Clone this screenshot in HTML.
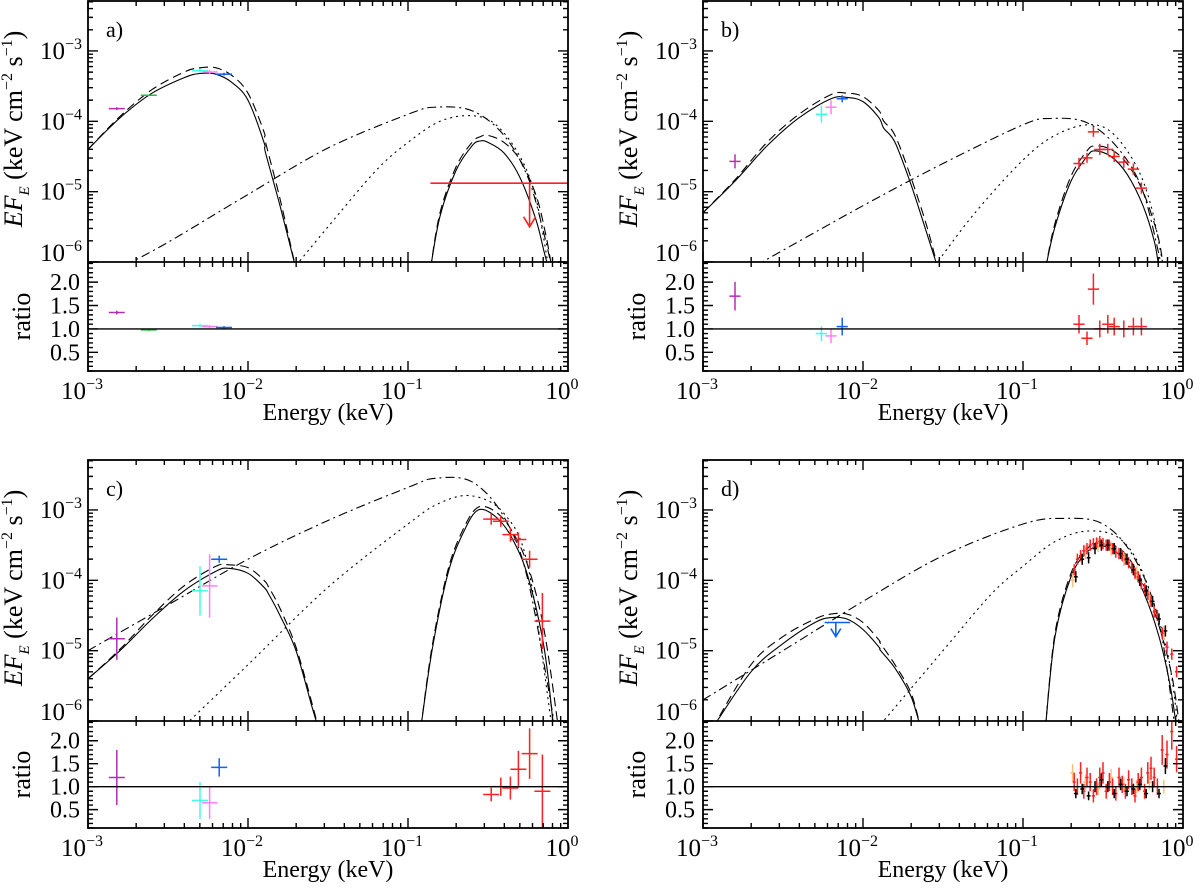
<!DOCTYPE html>
<html><head><meta charset="utf-8"><style>
html,body{margin:0;padding:0;background:#fff;}
svg{display:block;font-family:"Liberation Serif",serif;}
</style></head><body>
<svg id="fig" width="1200" height="889" viewBox="0 0 1200 889" xmlns="http://www.w3.org/2000/svg"></svg>
<script>
// ---------- panel a ----------
const a_lowE=[-3,-2.8,-2.6,-2.4,-2.3,-2.2,-2.1,-2.0,-1.9,-1.89,-1.8,-1.7];
const a_lowF=[-4.4,-3.95,-3.6,-3.38,-3.32,-3.33,-3.45,-3.7,-4.3,-4.45,-5.2,-6.1];
const a_lowDF=[-4.4,-3.93,-3.55,-3.3,-3.24,-3.24,-3.35,-3.6,-4.15,-4.3,-5.1,-6.1];
const a_hotE=[-0.86,-0.8,-0.7,-0.6,-0.55,-0.5,-0.4,-0.3,-0.2,-0.15,-0.12];
const a_hotF=[-6.1,-5.35,-4.7,-4.35,-4.28,-4.3,-4.45,-4.8,-5.4,-5.85,-6.1];
const a_hotDE=[-0.86,-0.8,-0.7,-0.6,-0.55,-0.5,-0.4,-0.3,-0.2,-0.14,-0.1];
const a_hotDF=[-6.1,-5.3,-4.65,-4.3,-4.22,-4.2,-4.3,-4.55,-5.05,-5.6,-6.1];
const a_ddE=[-2.77,-2.5,-2.0,-1.5,-1.0,-0.83,-0.6,-0.4,-0.25,-0.15,-0.1];
const a_ddF=[-6.05,-5.72,-5.04,-4.38,-3.9,-3.8,-3.85,-4.2,-4.8,-5.6,-6.1];
const a_dotE=[-1.7,-1.5,-1.2,-1.0,-0.8,-0.6,-0.45,-0.3,-0.2,-0.12];
const a_dotF=[-6.05,-5.5,-4.7,-4.3,-4.0,-3.92,-4.05,-4.5,-5.1,-6.1];
const a_ptE=[-2.82,-2.62,-2.30,-2.24,-2.15];
const a_ptF=[-3.82,-3.63,-3.28,-3.3,-3.33];
const a_ptR=[1.35,0.98,1.07,1.05,1.03];
const a_ptV=[0.02,0.01,0.03,0.03,0.02];
const a_ptC=["#b030b0","#20c040","#40ffe8","#ff80ff","#1060ff"];
// ---------- panel b ----------
const b_lowE=[-3,-2.8,-2.6,-2.4,-2.2,-2.1,-2.0,-1.9,-1.87,-1.8,-1.7,-1.6,-1.53];
const b_lowF=[-5.3,-4.85,-4.35,-3.95,-3.68,-3.66,-3.72,-3.95,-4.1,-4.3,-4.9,-5.6,-6.1];
const b_lowDF=[-5.3,-4.83,-4.3,-3.9,-3.62,-3.6,-3.65,-3.85,-4.0,-4.2,-4.8,-5.5,-6.1];
const b_hotE=[-0.86,-0.8,-0.7,-0.6,-0.55,-0.45,-0.35,-0.25,-0.18,-0.15];
const b_hotF=[-6.1,-5.5,-4.85,-4.5,-4.42,-4.5,-4.75,-5.2,-5.7,-6.1];
const b_hotDE=[-0.86,-0.8,-0.7,-0.6,-0.55,-0.45,-0.35,-0.25,-0.16,-0.12];
const b_hotDF=[-6.1,-5.45,-4.78,-4.42,-4.35,-4.4,-4.6,-5.0,-5.6,-6.1];
const b_ddE=[-2.67,-2.0,-1.5,-1.0,-0.83,-0.6,-0.4,-0.25,-0.13];
const b_ddF=[-6.05,-5.2,-4.6,-4.05,-3.96,-4.02,-4.4,-5.0,-6.1];
const b_dotE=[-1.55,-1.3,-1.0,-0.8,-0.6,-0.45,-0.3,-0.2,-0.12];
const b_dotF=[-6.05,-5.3,-4.55,-4.2,-4.05,-4.15,-4.6,-5.2,-6.1];
const b_ptE=[-2.8,-2.26,-2.2,-2.13,-0.65,-0.6,-0.56,-0.52,-0.47,-0.43,-0.37,-0.31,-0.26];
const b_ptF=[-4.57,-3.9,-3.8,-3.68,-4.6,-4.52,-4.15,-4.4,-4.4,-4.5,-4.58,-4.68,-4.95];
const b_ptR=[1.7,0.9,0.85,1.05,1.1,0.8,1.85,1.0,1.1,1.05,1.0,1.05,1.05];
const b_ptV=[0.1,0.12,0.1,0.05,0.08,0.07,0.07,0.08,0.08,0.08,0.08,0.08,0.08];
const b_ptC=["#b030b0","#40ffe8","#ff80ff","#1060ff","#ff2020","#ff2020","#ff2020","#ff2020","#ff2020","#ff2020","#ff2020","#ff2020","#ff2020"];
// ---------- panel c ----------
const c_lowE=[-3,-2.8,-2.6,-2.4,-2.2,-2.12,-2.0,-1.9,-1.87,-1.8,-1.7,-1.6,-1.56];
const c_lowF=[-5.4,-5.0,-4.55,-4.15,-3.87,-3.83,-3.9,-4.1,-4.2,-4.5,-5.0,-5.8,-6.1];
const c_lowDF=[-5.4,-4.98,-4.5,-4.08,-3.8,-3.78,-3.82,-4.0,-4.1,-4.4,-4.95,-5.75,-6.1];
const c_hotE=[-0.92,-0.85,-0.75,-0.65,-0.56,-0.45,-0.35,-0.25,-0.15,-0.09];
const c_hotF=[-6.1,-5.0,-3.9,-3.3,-3.0,-3.1,-3.4,-3.95,-4.95,-6.1];
const c_hotDE=[-0.92,-0.85,-0.75,-0.65,-0.56,-0.45,-0.35,-0.25,-0.15,-0.06];
const c_hotDF=[-6.1,-4.95,-3.85,-3.25,-2.96,-3.03,-3.3,-3.8,-4.7,-6.1];
const c_ddE=[-3,-2.5,-2.0,-1.5,-1.0,-0.83,-0.6,-0.4,-0.25,-0.08];
const c_ddF=[-5.0,-4.35,-3.7,-3.15,-2.68,-2.55,-2.6,-3.1,-4.0,-6.1];
const c_dotE=[-2.39,-2.0,-1.5,-1.0,-0.8,-0.6,-0.4,-0.25,-0.1];
const c_dotF=[-6.05,-5.2,-4.1,-3.2,-2.9,-2.8,-3.05,-3.8,-6.1];
const c_ptE=[-2.82,-2.3,-2.24,-2.18,-0.48,-0.42,-0.36,-0.31,-0.24,-0.16];
const c_ptF=[-4.83,-4.15,-4.08,-3.7,-3.13,-3.16,-3.35,-3.42,-3.7,-4.58];
const c_ptR=[1.2,0.7,0.65,1.42,0.83,1.0,0.97,1.38,1.72,0.9];
const c_ptV=[0.3,0.35,0.45,0.05,0.08,0.08,0.1,0.1,0.12,0.4];
const c_ptRE=[0.6,0.4,0.35,0.2,0.15,0.2,0.25,0.4,0.55,0.8];
const c_ptC=["#b030b0","#40ffe8","#ff80ff","#1060ff","#ff2020","#ff2020","#ff2020","#ff2020","#ff2020","#ff2020"];
// ---------- panel d ----------
const d_lowE=[-2.94,-2.7,-2.5,-2.3,-2.2,-2.1,-2.0,-1.9,-1.89,-1.8,-1.7,-1.64];
const d_lowF=[-6.1,-5.3,-4.9,-4.6,-4.53,-4.55,-4.7,-4.95,-5.0,-5.25,-5.65,-6.1];
const d_lowDF=[-6.1,-5.2,-4.8,-4.55,-4.48,-4.48,-4.6,-4.85,-4.9,-5.2,-5.6,-6.1];
const d_hotE=[-0.86,-0.8,-0.7,-0.6,-0.52,-0.45,-0.35,-0.25,-0.15,-0.08,-0.04];
const d_hotF=[-6.1,-4.8,-3.95,-3.6,-3.52,-3.55,-3.75,-4.15,-4.8,-5.5,-6.1];
const d_hotDE=[-0.86,-0.8,-0.7,-0.6,-0.52,-0.45,-0.35,-0.25,-0.15,-0.07,-0.02];
const d_hotDF=[-6.1,-4.75,-3.9,-3.55,-3.47,-3.48,-3.65,-4.05,-4.65,-5.35,-6.1];
const d_ddE=[-3,-2.5,-2.0,-1.5,-1.0,-0.75,-0.5,-0.3,-0.15,-0.05];
const d_ddF=[-5.7,-5.0,-4.3,-3.65,-3.2,-3.12,-3.2,-3.7,-4.6,-6.1];
const d_dotE=[-1.89,-1.5,-1.2,-1.0,-0.8,-0.6,-0.4,-0.25,-0.1,-0.03];
const d_dotF=[-6.05,-5.0,-4.2,-3.8,-3.45,-3.3,-3.4,-3.9,-5.0,-6.1];
const d_redE=[-0.68,-0.66,-0.64,-0.62,-0.60,-0.58,-0.56,-0.54,-0.52,-0.50,-0.48,-0.46,-0.44,-0.42,-0.40,-0.38,-0.36,-0.34,-0.32,-0.30,-0.28,-0.26,-0.24,-0.22,-0.20,-0.18,-0.16,-0.13,-0.10,-0.07,-0.04];
const d_redF=[-3.85,-3.7,-3.65,-3.58,-3.55,-3.5,-3.48,-3.47,-3.45,-3.48,-3.5,-3.5,-3.55,-3.6,-3.62,-3.65,-3.7,-3.75,-3.82,-3.9,-3.95,-4.05,-4.12,-4.2,-4.3,-4.45,-4.5,-4.75,-4.95,-5.05,-5.3];
const d_redR=[1.1,1.0,1.3,0.9,1.2,1.1,0.8,1.0,1.2,1.3,0.9,1.1,1.0,0.85,1.2,1.05,0.9,1.15,1.0,0.8,1.1,1.2,0.9,1.3,1.4,1.2,1.0,1.8,1.7,2.2,1.6];
const d_blkE=[-0.67,-0.63,-0.59,-0.55,-0.51,-0.47,-0.43,-0.39,-0.35,-0.31,-0.27,-0.23,-0.19,-0.15,-0.11];
const d_blkF=[-3.95,-3.7,-3.68,-3.55,-3.5,-3.5,-3.55,-3.62,-3.7,-3.85,-4.0,-4.15,-4.3,-4.55,-4.72];
const d_blkR=[0.85,0.95,0.8,1.0,1.15,1.0,0.85,1.05,0.9,0.95,1.05,0.85,1.0,0.85,1.45];
const d_orgE=[-0.69,-0.61,-0.53,-0.45,-0.37,-0.29,-0.21,-0.12];
const d_orgF=[-4.0,-3.6,-3.5,-3.55,-3.7,-3.9,-4.25,-4.75];
const d_orgR=[1.3,1.1,0.95,1.2,1.05,1.0,1.1,1.0];

const NS="http://www.w3.org/2000/svg";
const svg=document.getElementById('fig');
function mk(tag,attrs,parent){const e=document.createElementNS(NS,tag);for(const k in attrs)e.setAttribute(k,attrs[k]);(parent||svg).appendChild(e);return e;}

const W=480, TOPH=261, LTOP=-2.29, LBOT=-6.0, RTOP=2.43, RBOT=0.1;

function smooth(P){
  let d='M'+P[0][0].toFixed(1)+' '+P[0][1].toFixed(1);
  for(let i=0;i<P.length-1;i++){
    const p0=P[Math.max(i-1,0)],p1=P[i],p2=P[i+1],p3=P[Math.min(i+2,P.length-1)];
    const c1x=p1[0]+(p2[0]-p0[0])/6,c1y=p1[1]+(p2[1]-p0[1])/6;
    const c2x=p2[0]-(p3[0]-p1[0])/6,c2y=p2[1]-(p3[1]-p1[1])/6;
    d+=`C${c1x.toFixed(1)} ${c1y.toFixed(1)} ${c2x.toFixed(1)} ${c2y.toFixed(1)} ${p2[0].toFixed(1)} ${p2[1].toFixed(1)}`;
  }
  return d;
}

function panel(ox,oy,RH,lab,curves,pts,extra){
  const g=mk('g',{});
  
  
  const X=e=>ox+(e+3)/3*W;
  const Y=f=>oy+(LTOP-f)/(LTOP-LBOT)*TOPH;
  const R=r=>oy+TOPH+(RTOP-r)/(RTOP-RBOT)*RH;
  const clip='clip'+lab, clipR='clipr'+lab;
  const defs=mk('defs',{},g);
  const cp=mk('clipPath',{id:clip},defs); mk('rect',{x:ox,y:oy,width:W,height:TOPH},cp);
  const cr=mk('clipPath',{id:clipR},defs); mk('rect',{x:ox,y:oy+TOPH,width:W,height:RH},cr);
  curves.forEach(c=>{
    const P=c.E.map((e,i)=>[X(e),Y(c.F[i])]);
    const p=mk('path',{d:smooth(P),fill:'none',stroke:'#000','stroke-width':1.1,'stroke-dasharray':c.dash,'clip-path':'url(#'+clip+')'},g);
    
    
  });
  pts.forEach(s=>{
    s.E.forEach((e,i)=>{
      const col=Array.isArray(s.C)?s.C[i]:s.C;
      const x=X(e), y=Y(s.F[i]);
      const gp=mk('g',{stroke:col,'stroke-width':1.5,fill:'none'},g);
      
      
      const hx=s.hx, vy=Array.isArray(s.vy)?s.vy[i]:s.vy;
      const re=Array.isArray(s.re)?s.re[i]:s.re*s.R[i];
      mk('line',{x1:X(e-hx),x2:X(e+hx),y1:y,y2:y,'clip-path':'url(#'+clip+')'},gp);
      mk('line',{x1:x,x2:x,y1:Y(s.F[i]+vy),y2:Math.min(Y(s.F[i]-vy),oy+TOPH),'clip-path':'url(#'+clip+')'},gp);
      const ry=R(s.R[i]);
      mk('line',{x1:X(e-hx),x2:X(e+hx),y1:ry,y2:ry,'clip-path':'url(#'+clipR+')'},gp);
      mk('line',{x1:x,x2:x,y1:R(s.R[i]+re),y2:R(s.R[i]-re),'clip-path':'url(#'+clipR+')'},gp);
    });
  });
  if(extra) extra(g,X,Y,R);
  const ul=mk('line',{x1:ox,x2:ox+W,y1:R(1),y2:R(1),stroke:'#000','stroke-width':1.4},g);
  
  
  mk('rect',{x:ox,y:oy,width:W,height:TOPH+RH,fill:'none',stroke:'#000','stroke-width':1.8},g);
  mk('line',{x1:ox,x2:ox+W,y1:oy+TOPH,y2:oy+TOPH,stroke:'#000','stroke-width':1.8},g);
  let tk='';
  for(let dcd=-3;dcd<0;dcd++){for(let m=1;m<10;m++){
    const e=dcd+Math.log10(m);const x=X(e);const L=m==1?10:5;
    tk+=`M${x} ${oy}v${L}M${x} ${oy+TOPH}v${-L}M${x} ${oy+TOPH}v${L}M${x} ${oy+TOPH+RH}v${-L}`;}}
  for(let dcd=-7;dcd<=-2;dcd++){for(let m=1;m<10;m++){
    const f=dcd+Math.log10(m);if(f>LTOP||f<LBOT-0.001)continue;const y=Y(f);const L=m==1?10:5;
    tk+=`M${ox} ${y}h${L}M${ox+W} ${y}h${-L}`;}}
  for(let r=0.1;r<2.43;r+=0.1){const y=R(r);const maj=Math.abs(r*2-Math.round(r*2))<0.01;const L=maj?10:5;
    tk+=`M${ox} ${y}h${L}M${ox+W} ${y}h${-L}`;}
  mk('path',{d:tk,stroke:'#000','stroke-width':1.4,fill:'none'},g);
  [-3,-4,-5,-6].forEach(f=>{
    const t=mk('text',{x:ox-6,y:Y(f)+(f==-6?-1:8),'text-anchor':'end','font-size':25},g);
    
    
    t.innerHTML='10<tspan dy="-10" font-size="16">−'+(-f)+'</tspan>';
  });
  ['2.0','1.5','1.0','0.5'].forEach(v=>{
    const t=mk('text',{x:ox-8,y:R(+v)+8,'text-anchor':'end','font-size':24},g);
    
    
    t.textContent=v;
  });
  const bot=oy+TOPH+RH;
  [-3,-2,-1,0].forEach(e=>{
    const t=mk('text',{x:X(e)-6,y:bot+28,'text-anchor':'middle','font-size':25},g);
    
    
    t.innerHTML='10<tspan dy="-10" font-size="16">'+(e==0?'0':'−'+(-e))+'</tspan>';
  });
  const xt=mk('text',{x:ox+W/2,y:bot+49,'text-anchor':'middle','font-size':24},g);
  
  
  xt.textContent='Energy (keV)';
  const yt=mk('text',{transform:`translate(${ox-66},${oy+128}) rotate(-90)`,'text-anchor':'middle','font-size':26},g);
  
  
  yt.innerHTML='<tspan font-style="italic">EF</tspan><tspan font-style="italic" font-size="15" dy="7">E</tspan><tspan dy="-7"> (keV cm</tspan><tspan dy="-10" font-size="16">−2</tspan><tspan dy="10"> s</tspan><tspan dy="-10" font-size="16">−1</tspan><tspan dy="10">)</tspan>';
  const rt=mk('text',{transform:`translate(${ox-58},${oy+TOPH+RH/2}) rotate(-90)`,'text-anchor':'middle','font-size':26},g);
  
  
  rt.textContent='ratio';
  const pl=mk('text',{x:ox+18,y:oy+36,'font-size':22},g);
  
  
  pl.textContent=lab+')';
}
function cv(E,F,dash,name){return {E:E,F:F,dash:dash,name:name};}
const SOL='none',DSH='9,5',DD='9,4,2,4',DOT='2,4';

panel(88,1,109,'a',[cv(a_lowE,a_lowF,SOL,'model-cool'),cv(a_lowE,a_lowDF,DSH,'model-total'),cv(a_hotE,a_hotF,SOL,'model-hot'),cv(a_hotDE,a_hotDF,DSH,'model-total-hot'),cv(a_ddE,a_ddF,DD,'model-powerlaw'),cv(a_dotE,a_dotF,DOT,'model-disk')],
  [{E:a_ptE,F:a_ptF,R:a_ptR,C:a_ptC,hx:0.05,vy:a_ptV,re:0.03}],
  (g,X,Y,R)=>{
    const ul=mk('g',{stroke:'#ff2020','stroke-width':1.6,fill:'none'},g);
    
    
    mk('line',{x1:X(-0.86),x2:X(0),y1:Y(-4.88),y2:Y(-4.88)},ul);
    mk('line',{x1:X(-0.24),x2:X(-0.24),y1:Y(-4.88),y2:Y(-5.5)},ul);
    mk('path',{d:`M${X(-0.24)-6} ${Y(-5.5)-10}L${X(-0.24)} ${Y(-5.5)}L${X(-0.24)+6} ${Y(-5.5)-10}`},ul);
  });
panel(703,1,109,'b',[cv(b_lowE,b_lowF,SOL,'model-cool'),cv(b_lowE,b_lowDF,DSH,'model-total'),cv(b_hotE,b_hotF,SOL,'model-hot'),cv(b_hotDE,b_hotDF,DSH,'model-total-hot'),cv(b_ddE,b_ddF,DD,'model-powerlaw'),cv(b_dotE,b_dotF,DOT,'model-disk')],
  [{E:b_ptE,F:b_ptF,R:b_ptR,C:b_ptC,hx:0.035,vy:b_ptV,re:0.18}]);
panel(88,460,107,'c',[cv(c_lowE,c_lowF,SOL,'model-cool'),cv(c_lowE,c_lowDF,DSH,'model-total'),cv(c_hotE,c_hotF,SOL,'model-hot'),cv(c_hotDE,c_hotDF,DSH,'model-total-hot'),cv(c_ddE,c_ddF,DD,'model-powerlaw'),cv(c_dotE,c_dotF,DOT,'model-disk')],
  [{E:c_ptE,F:c_ptF,R:c_ptR,C:c_ptC,hx:0.05,vy:c_ptV,re:c_ptRE}]);
panel(703,460,107,'d',[cv(d_lowE,d_lowF,SOL,'model-cool'),cv(d_lowE,d_lowDF,DSH,'model-total'),cv(d_hotE,d_hotF,SOL,'model-hot'),cv(d_hotDE,d_hotDF,DSH,'model-total-hot'),cv(d_ddE,d_ddF,DD,'model-powerlaw'),cv(d_dotE,d_dotF,DOT,'model-disk')],
  [{E:d_orgE,F:d_orgF,R:d_orgR,C:'#ffc080',hx:0.015,vy:0.1,re:0.15},
   {E:d_redE,F:d_redF,R:d_redR,C:'#ff2020',hx:0.01,vy:0.08,re:0.18},
   {E:d_blkE,F:d_blkF,R:d_blkR,C:'#000',hx:0.012,vy:0.08,re:0.12}],
  (g,X,Y,R)=>{
    const ul=mk('g',{stroke:'#1060ff','stroke-width':1.6,fill:'none'},g);
    
    
    mk('line',{x1:X(-2.24),x2:X(-2.08),y1:Y(-4.6),y2:Y(-4.6)},ul);
    mk('line',{x1:X(-2.17),x2:X(-2.17),y1:Y(-4.6),y2:Y(-4.8)},ul);
    mk('path',{d:`M${X(-2.17)-5} ${Y(-4.8)-8}L${X(-2.17)} ${Y(-4.8)}L${X(-2.17)+5} ${Y(-4.8)-8}`},ul);
  });
</script>
</body></html>
